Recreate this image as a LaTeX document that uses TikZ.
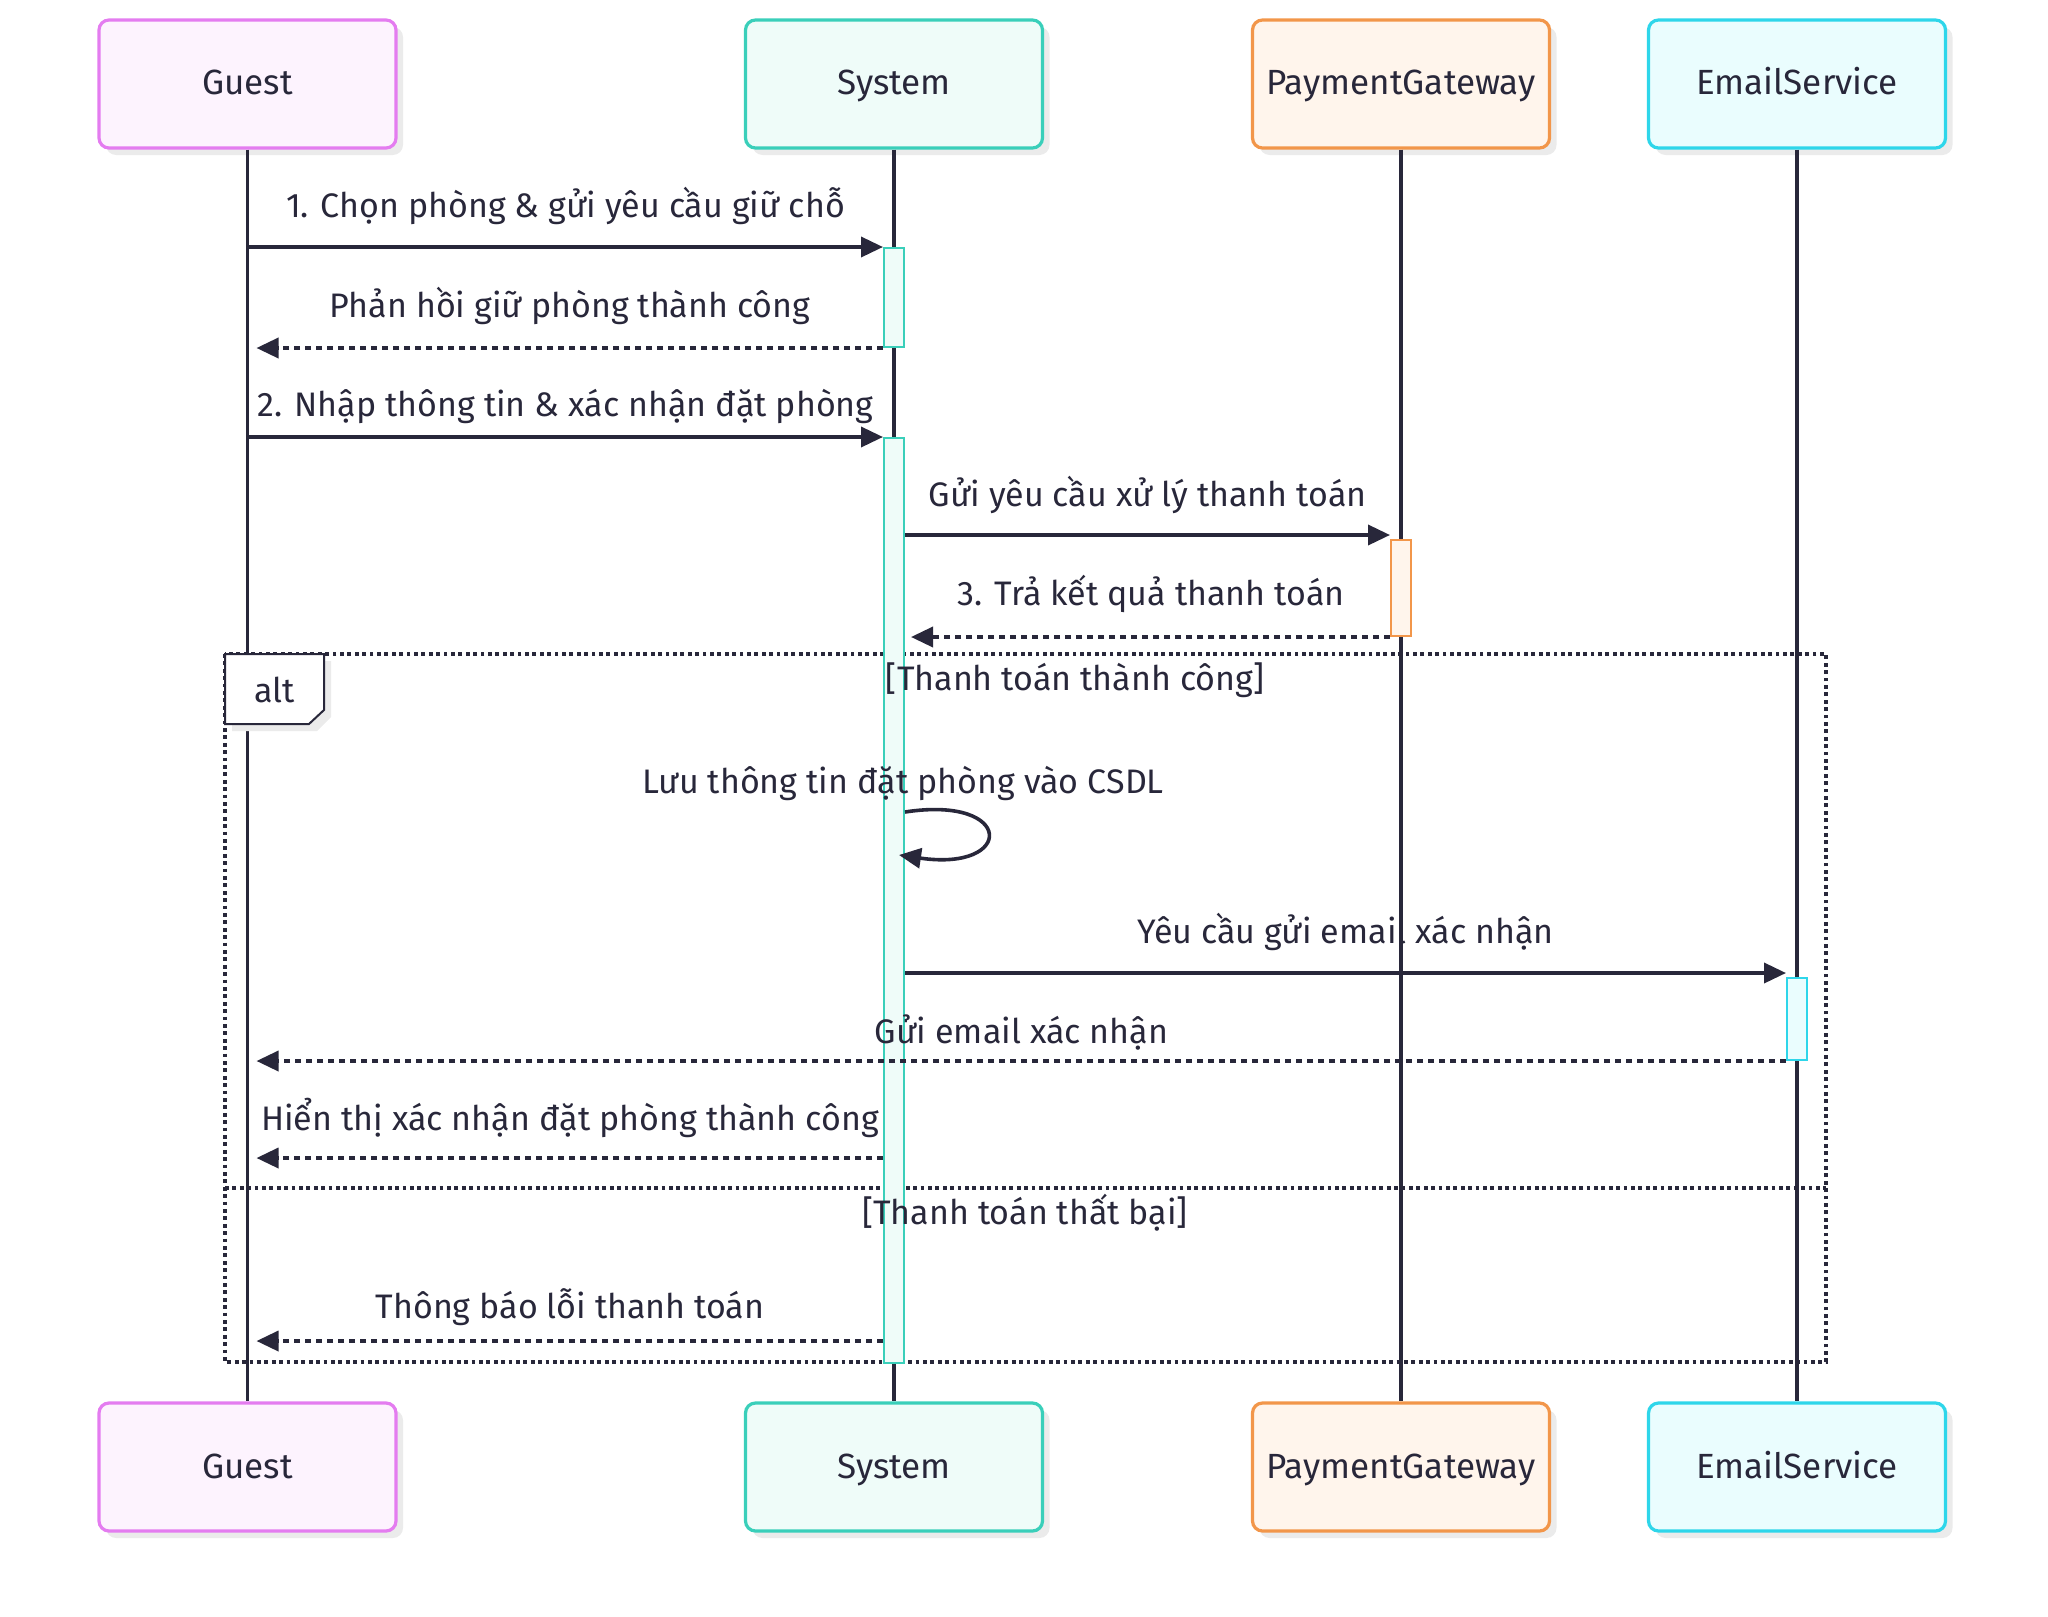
\documentclass[tikz,border=0pt]{standalone}
\usepackage{fontspec}
\setmainfont{Fira Sans}
\usetikzlibrary{arrows.meta,calc,shadows}
\definecolor{ink}{HTML}{28273A}
\definecolor{gB}{HTML}{E47CF0}\definecolor{gF}{HTML}{FDF3FE}
\definecolor{sB}{HTML}{3ACFBA}\definecolor{sF}{HTML}{EFFCF9}
\definecolor{pB}{HTML}{F2964A}\definecolor{pF}{HTML}{FFF5EC}
\definecolor{eB}{HTML}{2ED6EA}\definecolor{eF}{HTML}{EAFDFE}
\tikzset{
  actor/.style={draw, line width=1.6pt, rounded corners=5pt, minimum width=148.5pt, minimum height=64pt,
    text=ink, font=\fontsize{17.5}{20}\selectfont, text height=14.5pt, text depth=3.5pt,
    drop shadow={shadow xshift=3.5pt, shadow yshift=-3.5pt, fill=black!8, opacity=1}},
  life/.style={draw=ink, line width=1.6pt},
  act/.style={draw, line width=1pt, minimum width=10pt, inner sep=0pt, anchor=north},
  msg/.style={draw=ink, line width=1.8pt, -{Triangle[length=11pt,width=10pt]}},
  ret/.style={msg, dash pattern=on 3pt off 2.5pt},
  lbl/.style={text=ink, font=\fontsize{17}{20}\selectfont, anchor=base, inner sep=0pt},
  frame/.style={draw=ink, line width=1.8pt, dash pattern=on 1.9pt off 1.8pt},
}
\begin{document}
\begin{tikzpicture}[x=0.5pt,y=-0.5pt]
\useasboundingbox (0,0) rectangle (2048,1616);
% actors
\node[actor, draw=gB, fill=gF] (g1) at (247.5,84) {Guest};
\node[actor, draw=sB, fill=sF] (s1) at (894,84) {System};
\node[actor, draw=pB, fill=pF] (p1) at (1401,84) {PaymentGateway};
\node[actor, draw=eB, fill=eF] (e1) at (1797,84) {EmailService};
\node[actor, draw=gB, fill=gF] (g2) at (247.5,1467) {Guest};
\node[actor, draw=sB, fill=sF] (s2) at (894,1467) {System};
\node[actor, draw=pB, fill=pF] (p2) at (1401,1467) {PaymentGateway};
\node[actor, draw=eB, fill=eF] (e2) at (1797,1467) {EmailService};
% lifelines
\draw[life] (g1) -- (g2);
\draw[life] (s1) -- (s2);
\draw[life] (p1) -- (p2);
\draw[life] (e1) -- (e2);
% alt frame
\draw[frame] (225,654) rectangle (1826,1362);
\draw[frame] (225,1188) -- (1826,1188);
\fill[black!8] (232,661) -- (331,661) -- (331,717) -- (317,731) -- (232,731) -- cycle;
\draw[ink, line width=1pt, fill=white] (225,654) -- (324,654) -- (324,710) -- (309,724) -- (225,724) -- cycle;
\node[lbl] (alt) at (275,702) {alt};
% activations
\node[act, draw=sB, fill=sF, minimum height=49.5pt] (a1) at (894,247) {};
\node[act, draw=sB, fill=sF, minimum height=462.5pt] (a2) at (894,437) {};
\node[act, draw=pB, fill=pF, minimum height=48pt] (a3) at (1401,539) {};
\node[act, draw=eB, fill=eF, minimum height=41pt] (a4) at (1797,977) {};
\node[lbl] (c1) at (1075,690) {[Thanh toán thành công]};
\node[lbl] (c2) at (1025,1224) {[Thanh toán thất bại]};
% messages
\draw[msg] (g1.south |- a1.north) -- (a1.north west);
\node[lbl] (m1) at (565.5,217) {1. Chọn phòng \& gửi yêu cầu giữ chỗ};
\draw[ret] (a1.south west) -- ($(g1.south |- a1.south)+(9,0)$);
\node[lbl] (m2) at (570,317) {Phản hồi giữ phòng thành công};
\draw[msg] (g1.south |- a2.north) -- (a2.north west);
\node[lbl] (m3) at (565.5,416) {2. Nhập thông tin \& xác nhận đặt phòng};
\draw[msg] (a2.east |- 0,535) -- (a3.west |- 0,535);
\node[lbl] (m4) at (1147.5,506) {Gửi yêu cầu xử lý thanh toán};
\draw[ret] (a3.south west) -- ($(a2.east |- a3.south)+(6,0)$);
\node[lbl] (m5) at (1151,605) {3. Trả kết quả thanh toán};
\draw[msg] (a2.east |- 0,812) .. controls (1015,795) and (1015,872) .. ($(a2.east |- 0,855)+(-6,0)$);
\node[lbl] (m6) at (903,793) {Lưu thông tin đặt phòng vào CSDL};
\draw[msg] (a2.east |- 0,973) -- (a4.west |- 0,973);
\node[lbl] (m7) at (1345.5,943) {Yêu cầu gửi email xác nhận};
\draw[ret] (a4.south west) -- ($(g1.south |- a4.south)+(9,0)$);
\node[lbl] (m8) at (1021.5,1043) {Gửi email xác nhận};
\draw[ret] (a2.west |- 0,1158) -- ($(g1.south |- 0,1158)+(9,0)$);
\node[lbl] (m9) at (570,1130) {Hiển thị xác nhận đặt phòng thành công};
\draw[ret] (a2.west |- 0,1341) -- ($(g1.south |- 0,1341)+(9,0)$);
\node[lbl] (m10) at (570,1318) {Thông báo lỗi thanh toán};
\end{tikzpicture}
\end{document}
